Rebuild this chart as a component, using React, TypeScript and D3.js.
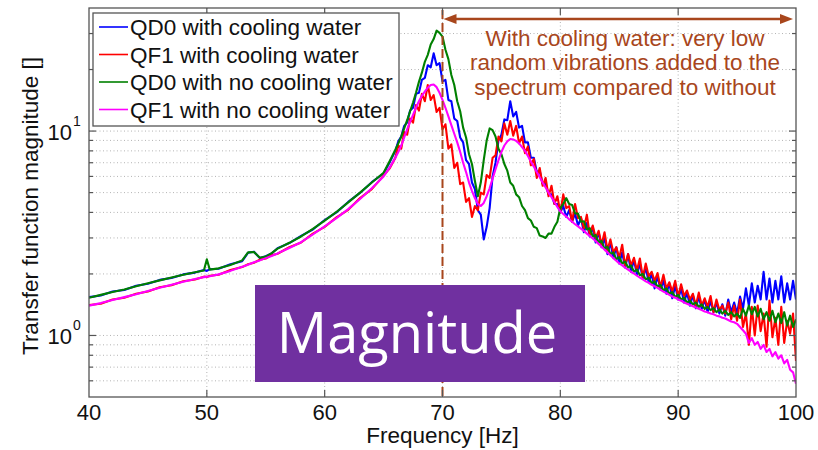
import React from 'react';
import * as d3 from 'd3';

// ---------- DATA ----------
const xTickValues = [40, 50, 60, 70, 80, 90, 100];
const yMajorTicks = [1, 10];
const yMinorTicks = [0.6, 0.7, 0.8, 0.9, 2, 3, 4, 5, 6, 7, 8, 9, 20, 30];

// frequency grid, Hz
const lowFreqs = [40, 41, 42, 43, 44, 45, 46, 47, 48, 49, 49.75, 50, 50.25, 51, 52, 53, 53.5, 54, 54.5, 55, 55.5, 56, 57, 58, 59, 60, 61, 62, 63, 64, 65, 65.5];
const highFreqs = d3.range(0, 137).map((i) => 66 + i * 0.25); // 66 .. 100 Hz sampling grid

// QD0 with cooling water (blue)
const qd0CoolLow = [1.54, 1.57, 1.64, 1.67, 1.75, 1.79, 1.87, 1.91, 1.99, 2.03, 2.09, 2.07, 2.11, 2.12, 2.23, 2.31, 2.54, 2.57, 2.39, 2.44, 2.52, 2.67, 2.83, 3.07, 3.30, 3.67, 4.0, 4.5, 4.98, 5.62, 6.2, 7.0];
const qd0CoolHigh = [
  8.0, 8.9, 9.4, 10.6,
  11.0, 12.6, 13.0, 15.2,
  15.4, 17.8, 18.2, 21.0,
  20.5, 24.0, 21.0, 21.5,
  17.5, 17.8, 14.2, 14.0,
  11.5, 11.2, 9.3, 8.8,
  7.2, 6.9, 5.6, 5.2,
  4.1, 3.9, 2.95, 3.4,
  4.2, 6.0, 7.0, 9.0,
  9.6, 11.4, 11.3, 14.0,
  11.8, 12.4, 10.4, 10.6,
  8.8, 8.8, 7.4, 7.4,
  6.3, 6.4, 5.5, 5.5,
  4.9, 4.9, 4.4, 4.4,
  4.0, 4.3, 3.8, 4.1,
  3.6, 3.95, 3.45, 3.75,
  3.2, 3.55, 3.05, 3.4,
  2.85, 3.2, 2.7, 3.0,
  2.5, 2.85, 2.4, 2.7,
  2.25, 2.55, 2.15, 2.5,
  2.05, 2.35, 1.98, 2.25,
  1.9, 2.15, 1.82, 2.0,
  1.7, 1.95, 1.68, 1.85,
  1.6, 1.8, 1.52, 1.75,
  1.5, 1.7, 1.45, 1.62,
  1.4, 1.58, 1.36, 1.55,
  1.35, 1.5, 1.3, 1.48,
  1.3, 1.45, 1.28, 1.42,
  1.25, 1.5, 1.3, 1.45,
  1.28, 1.55, 1.35, 1.7,
  1.4, 1.8, 1.45, 1.75,
  1.5, 2.05, 1.5, 1.9,
  1.45, 1.85, 1.5, 1.95,
  1.45, 1.8, 1.5, 1.85,
  1.5,
];

// QF1 with cooling water (red)
const qf1CoolLow = [1.41, 1.43, 1.50, 1.53, 1.60, 1.64, 1.72, 1.76, 1.84, 1.88, 1.94, 1.93, 1.96, 1.98, 2.09, 2.16, 2.23, 2.27, 2.35, 2.38, 2.47, 2.51, 2.70, 2.85, 3.15, 3.40, 3.78, 4.12, 4.70, 5.2, 6.05, 6.55];
const qf1CoolHigh = [
  7.4, 8.5, 8.2, 9.9,
  9.6, 11.5, 11.0, 13.4,
  12.6, 15.2, 14.0, 16.8,
  14.2, 15.0, 12.4, 13.0,
  10.2, 10.8, 8.2, 8.6,
  6.6, 7.0, 5.5, 5.6,
  4.5, 4.7, 3.8, 4.3,
  4.1, 5.0, 4.9, 6.1,
  5.9, 7.4, 7.6, 9.4,
  8.9, 10.9, 9.6, 11.2,
  9.5, 10.6, 8.7, 9.4,
  7.8, 8.4, 6.8, 7.3,
  5.9, 6.6, 5.4, 5.9,
  4.8, 5.4, 4.4, 4.8,
  4.0, 4.9, 4.2, 4.3,
  3.6, 4.4, 3.75, 3.8,
  3.35, 3.9, 3.1, 3.45,
  3.0, 3.25, 2.78, 3.2,
  2.62, 2.95, 2.55, 2.7,
  2.4, 2.78, 2.2, 2.5,
  2.2, 2.4, 2.08, 2.38,
  1.92, 2.25, 1.95, 2.05,
  1.85, 2.02, 1.72, 1.98,
  1.7, 1.82, 1.64, 1.85,
  1.55, 1.78, 1.56, 1.66,
  1.5, 1.6, 1.4, 1.62,
  1.4, 1.52, 1.38, 1.56,
  1.3, 1.5, 1.33, 1.4,
  1.28, 1.45, 1.2, 1.4,
  1.18, 1.5, 1.1, 1.28,
  0.9, 1.38, 1.0, 1.4,
  1.05, 1.28, 0.88, 1.48,
  0.98, 1.22, 0.9, 1.38,
  0.92, 1.18, 1.02, 1.28,
  0.75,
];

// QD0 with no cooling water (green)
const qd0NoCoolLow = [1.53, 1.58, 1.63, 1.68, 1.74, 1.80, 1.86, 1.92, 1.98, 2.04, 2.08, 2.36, 2.10, 2.13, 2.21, 2.33, 2.55, 2.56, 2.40, 2.43, 2.53, 2.66, 2.84, 3.05, 3.32, 3.65, 4.02, 4.48, 5.0, 5.6, 6.25, 7.1];
const qd0NoCoolHigh = [
  8.1, 8.7, 9.4, 10.3,
  11.3, 12.5, 13.8, 15.4,
  17.4, 19.3, 21.8, 23.6,
  26.5, 28.2, 31.0, 30.2,
  29.0, 25.0, 22.5, 18.8,
  16.8, 14.0, 12.5, 10.4,
  9.3, 7.7, 6.9, 5.7,
  4.8, 5.6, 7.2, 9.0,
  10.3, 10.1, 9.4, 8.2,
  7.7, 6.9, 6.4, 5.6,
  5.4, 4.9, 4.75, 4.3,
  4.1, 3.75, 3.65, 3.4,
  3.35, 3.08, 3.05, 3.0,
  3.15, 3.15, 3.4, 3.6,
  4.2, 4.4, 4.7, 4.4,
  4.35, 3.95, 3.95, 3.6,
  3.62, 3.3, 3.35, 3.05,
  3.1, 2.85, 2.9, 2.65,
  2.72, 2.5, 2.55, 2.36,
  2.42, 2.25, 2.3, 2.15,
  2.2, 2.05, 2.1, 1.97,
  2.0, 1.88, 1.92, 1.8,
  1.84, 1.73, 1.77, 1.66,
  1.7, 1.6, 1.63, 1.54,
  1.58, 1.5, 1.53, 1.45,
  1.48, 1.42, 1.45, 1.38,
  1.42, 1.35, 1.38, 1.33,
  1.36, 1.3, 1.34, 1.28,
  1.32, 1.26, 1.3, 1.24,
  1.28, 1.22, 1.35, 1.25,
  1.4, 1.27, 1.38, 1.24,
  1.35, 1.2, 1.3, 1.18,
  1.32, 1.16, 1.28, 1.15,
  1.3, 1.12, 1.25, 1.1,
  1.2,
];

// QF1 with no cooling water (magenta)
const qf1NoCoolLow = [1.40, 1.44, 1.49, 1.54, 1.59, 1.65, 1.71, 1.77, 1.83, 1.89, 1.93, 1.94, 1.95, 1.99, 2.07, 2.17, 2.22, 2.28, 2.33, 2.39, 2.45, 2.52, 2.68, 2.86, 3.12, 3.42, 3.75, 4.15, 4.65, 5.25, 6.0, 6.6];
const qf1NoCoolHigh = [
  7.4, 7.9, 8.5, 9.3,
  10.2, 11.1, 12.0, 13.0,
  14.0, 14.9, 15.6, 16.3,
  16.8, 16.9, 16.4, 15.4,
  14.2, 13.0, 11.8, 10.7,
  9.7, 8.8, 7.9, 7.0,
  6.3, 5.6, 5.1, 4.7,
  4.4, 4.3, 4.45, 4.8,
  5.25, 5.85, 6.5, 7.2,
  7.9, 8.5, 8.9, 9.15,
  9.1, 8.95, 8.7, 8.35,
  8.0, 7.55, 7.1, 6.7,
  6.3, 5.95, 5.6, 5.3,
  5.0, 4.75, 4.5, 4.25,
  4.05, 3.93, 3.82, 3.7,
  3.6, 3.5, 3.42, 3.33,
  3.25, 3.15, 3.07, 2.98,
  2.9, 2.8, 2.72, 2.63,
  2.55, 2.47, 2.39, 2.32,
  2.25, 2.2, 2.15, 2.1,
  2.05, 2.01, 1.96, 1.92,
  1.88, 1.84, 1.81, 1.77,
  1.74, 1.71, 1.67, 1.64,
  1.61, 1.58, 1.55, 1.53,
  1.5, 1.48, 1.45, 1.43,
  1.41, 1.39, 1.37, 1.35,
  1.33, 1.31, 1.3, 1.28,
  1.27, 1.25, 1.24, 1.22,
  1.21, 1.19, 1.17, 1.16,
  1.14, 1.1, 1.06, 1.02,
  0.92, 0.97, 0.9, 0.93,
  0.86, 0.9, 0.83, 0.86,
  0.79, 0.83, 0.77, 0.8,
  0.73, 0.76, 0.68, 0.66,
  0.58,
];

const seriesNames = ['QD0 with cooling water', 'QF1 with cooling water', 'QD0 with no cooling water', 'QF1 with no cooling water'];
const seriesColors = ['#0000FF', '#FF0000', '#008000', '#FF00FF'];
const seriesLow = [qd0CoolLow, qf1CoolLow, qd0NoCoolLow, qf1NoCoolLow];
const seriesHigh = [qd0CoolHigh, qf1CoolHigh, qd0NoCoolHigh, qf1NoCoolHigh];

const annotationLines = ['With cooling water: very low', 'random vibrations added to the', 'spectrum compared to without'];
const xLabel = 'Frequency [Hz]';
const yLabel = 'Transfer function magnitude []';
const boxLabel = 'Magnitude';
const markerFreq = 70;

// ---------- LAYOUT ----------
const W = 818;
const H = 450;
const P = { left: 89, right: 796, top: 8, bottom: 397 };
const FONT = "'Liberation Sans', Arial, Helvetica, sans-serif";
const BROWN = '#A8461C';

export default function App() {
  const x = d3.scaleLinear().domain([40, 100]).range([P.left, P.right]);
  const y = d3.scaleLog().domain([0.5, 40]).range([P.bottom, P.top]);
  const freqs = [...lowFreqs, ...highFreqs];
  const line = d3
    .line<[number, number]>()
    .x((d) => x(d[0]))
    .y((d) => y(d[1]));

  const series = seriesNames.map((name, i) => {
    const vals = [...seriesLow[i], ...seriesHigh[i]];
    return {
      name,
      color: seriesColors[i],
      points: freqs.map((f, j) => [f, vals[j]] as [number, number]),
    };
  });

  const gridX = xTickValues.filter((v) => v > 40 && v < 100);
  const gridY = [...yMinorTicks, ...yMajorTicks];
  const ax70 = x(markerFreq);
  const ax100 = x(100);
  const arrowY = 19;

  return (
    <svg
      width={W}
      height={H}
      style={{ position: 'absolute', left: 0, top: 0, background: '#fff' }}
      fontFamily={FONT}
    >
      <defs>
        <clipPath id="plotClip">
          <rect x={P.left} y={P.top} width={P.right - P.left} height={P.bottom - P.top} />
        </clipPath>
      </defs>
      <rect x={0} y={0} width={W} height={H} fill="#fff" />

      {/* grid */}
      <g stroke="#b4b4b4" strokeWidth={1} strokeDasharray="1,2.5">
        {gridX.map((v) => (
          <line key={'gx' + v} x1={x(v)} x2={x(v)} y1={P.top} y2={P.bottom} />
        ))}
        {gridY.map((v) => (
          <line key={'gy' + v} x1={P.left} x2={P.right} y1={y(v)} y2={y(v)} />
        ))}
      </g>

      {/* curves */}
      <g clipPath="url(#plotClip)" fill="none" strokeWidth={2.1} strokeLinejoin="round">
        {series.map((s) => (
          <path key={s.name} d={line(s.points) || ''} stroke={s.color} />
        ))}
      </g>

      {/* 70 Hz marker */}
      <line x1={ax70} x2={ax70} y1={P.top + 2} y2={P.bottom} stroke={BROWN} strokeWidth={2} strokeDasharray="9,4" />

      {/* axes box */}
      <rect x={P.left} y={P.top} width={P.right - P.left} height={P.bottom - P.top} fill="none" stroke="#555" strokeWidth={1.3} />
      <g stroke="#555" strokeWidth={1.2}>
        {gridX.map((v) => (
          <g key={'tx' + v}>
            <line x1={x(v)} x2={x(v)} y1={P.bottom} y2={P.bottom - 7} />
            <line x1={x(v)} x2={x(v)} y1={P.top} y2={P.top + 7} />
          </g>
        ))}
        {yMajorTicks.map((v) => (
          <g key={'tyM' + v}>
            <line x1={P.left} x2={P.left + 7} y1={y(v)} y2={y(v)} />
            <line x1={P.right} x2={P.right - 7} y1={y(v)} y2={y(v)} />
          </g>
        ))}
        {yMinorTicks.map((v) => (
          <g key={'tym' + v}>
            <line x1={P.left} x2={P.left + 4} y1={y(v)} y2={y(v)} />
            <line x1={P.right} x2={P.right - 4} y1={y(v)} y2={y(v)} />
          </g>
        ))}
      </g>

      {/* x tick labels */}
      <g fontSize={22} fill="#111" textAnchor="middle">
        {xTickValues.map((v) => (
          <text key={'xl' + v} x={x(v)} y={420}>
            {v}
          </text>
        ))}
      </g>
      {/* y tick labels */}
      <g fill="#111">
        {yMajorTicks.map((v) => (
          <g key={'yl' + v}>
            <text x={72} y={y(v) + 9} fontSize={22} textAnchor="end">
              10
            </text>
            <text x={73} y={y(v) - 5} fontSize={14}>
              {Math.round(Math.log10(v))}
            </text>
          </g>
        ))}
      </g>

      {/* axis labels */}
      <text x={(P.left + P.right) / 2} y={443} fontSize={22.5} textAnchor="middle" fill="#111">
        {xLabel}
      </text>
      <text transform={`translate(38, 206) rotate(-90)`} fontSize={22.5} textAnchor="middle" fill="#111">
        {yLabel}
      </text>

      {/* legend */}
      <rect x={93} y={13} width={306} height={113} fill="#fff" stroke="#555" strokeWidth={1.3} />
      {series.map((s, i) => (
        <g key={'lg' + i}>
          <line x1={99} x2={128} y1={27 + i * 27.5} y2={27 + i * 27.5} stroke={s.color} strokeWidth={1.6} />
          <text x={130} y={35 + i * 27.5} fontSize={22.5} fill="#111">
            {s.name}
          </text>
        </g>
      ))}

      {/* annotation arrow */}
      <line x1={ax70 + 10} x2={ax100 - 13} y1={arrowY} y2={arrowY} stroke={BROWN} strokeWidth={2.5} />
      <polygon
        points={`${ax70 + 1},${arrowY} ${ax70 + 14},${arrowY - 5} ${ax70 + 14},${arrowY + 5}`}
        fill={BROWN}
      />
      <polygon
        points={`${ax100 - 3},${arrowY} ${ax100 - 16},${arrowY - 5} ${ax100 - 16},${arrowY + 5}`}
        fill={BROWN}
      />
      <g fontSize={22.5} fill={BROWN} textAnchor="middle">
        {annotationLines.map((t, i) => (
          <text key={'an' + i} x={625} y={45.5 + i * 24.5}>
            {t}
          </text>
        ))}
      </g>

      {/* Magnitude box */}
      <rect x={255} y={285} width={330} height={97} fill="#7030A0" />
      <text x={417} y={353} fontSize={56} fill="#fff" textAnchor="middle" fontFamily="'Open Sans', sans-serif">
        {boxLabel}
      </text>
    </svg>
  );
}
